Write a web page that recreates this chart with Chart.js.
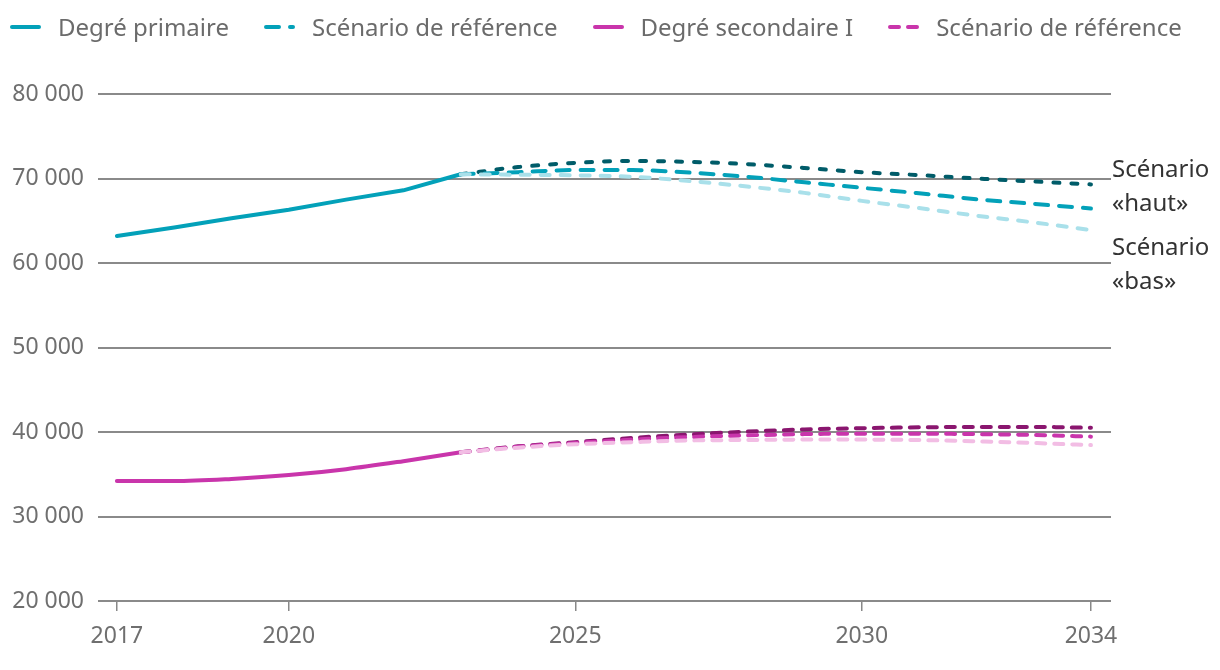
<!DOCTYPE html>
<html lang="fr">
<head>
  <meta charset="UTF-8" />
  <title>Élèves - scénarios</title>
  <script src="https://cdn.jsdelivr.net/npm/chart.js"></script>
  <style>
    html, body {
      margin: 0;
      padding: 0;
      background: #fff;
    }
    body {
      font-family: "Noto Sans", sans-serif;
      width: 1220px;
      height: 670px;
      position: relative;
      overflow: hidden;
    }
    #legend {
      position: absolute;
      left: 8px;
      top: 9px;
      display: flex;
      align-items: center;
      font-size: 24px;
      line-height: 36px;
      color: #6b6b6b;
      z-index: 2;
    }
    .item {
      display: flex;
      align-items: center;
      margin-right: 33px;
    }
    .item svg {
      margin-right: 16px;
    }
    #wrap {
      position: absolute;
      left: 0;
      top: 0;
      width: 1220px;
      height: 670px;
    }
  </style>
</head>
<body>
  <div id="legend"></div>
  <div id="wrap"><canvas id="chart"></canvas></div>

  <script>
    // historical years and projection years
    const histYears = [2017, 2018, 2019, 2020, 2021, 2022, 2023];
    const projYears = [2023, 2024, 2025, 2026, 2027, 2028, 2029, 2030, 2031, 2032, 2033, 2034];
    const xTicks = [2017, 2020, 2025, 2030, 2034];

    // degré primaire
    const primaire     = [63200, 64200, 65300, 66300, 67500, 68600, 70500];
    const primaireRef  = [70500, 70750, 71000, 71000, 70700, 70200, 69550, 68900, 68250, 67550, 67000, 66450];
    const primaireHaut = [70500, 71350, 71850, 72070, 71970, 71700, 71250, 70750, 70400, 70000, 69650, 69300];
    const primaireBas  = [70500, 70450, 70380, 70200, 69700, 69050, 68300, 67350, 66500, 65600, 64800, 63900];

    // degré secondaire I
    const secondaire     = [34200, 34200, 34450, 34900, 35600, 36550, 37600];
    const secondaireRef  = [37600, 38250, 38700, 39100, 39400, 39600, 39750, 39800, 39800, 39750, 39650, 39450];
    const secondaireHaut = [37600, 38300, 38800, 39300, 39700, 40050, 40300, 40450, 40550, 40600, 40600, 40500];
    const secondaireBas  = [37600, 38150, 38550, 38800, 39000, 39050, 39100, 39100, 39050, 38900, 38700, 38450];

    const legendItems = ['Degré primaire', 'Scénario de référence', 'Degré secondaire I', 'Scénario de référence'];
    const sideLabels = [
      { lines: ['Scénario', '«haut»'], value: 71000 },
      { lines: ['Scénario', '«bas»'], value: 61800 }
    ];

    const TEAL = '#03a1b9', TEAL_DARK = '#005c69', TEAL_LIGHT = '#a9e0ea';
    const PINK = '#c935ab', PINK_DARK = '#8a166f', PINK_LIGHT = '#f2bde4';

    function pts(xs, ys) {
      return xs.map((x, i) => ({ x: x, y: ys[i] }));
    }

    function line(label, xs, ys, color, dash, straight) {
      return {
        label: label,
        data: pts(xs, ys),
        borderColor: color,
        backgroundColor: color,
        borderWidth: 4,
        borderDash: dash || [],
        borderCapStyle: 'round',
        borderJoinStyle: 'round',
        cubicInterpolationMode: straight ? 'default' : 'monotone',
        tension: 0,
        pointRadius: 0,
        fill: false
      };
    }

    const datasets = [
      line('primaire bas', projYears, primaireBas, TEAL_LIGHT, [9, 11]),
      line('primaire ref', projYears, primaireRef, TEAL, [13, 11]),
      line('primaire haut', projYears, primaireHaut, TEAL_DARK, [6, 12]),
      line('Degré primaire', histYears, primaire, TEAL, null, true),
      line('secondaire bas', projYears, secondaireBas, PINK_LIGHT, [9, 9]),
      line('secondaire ref', projYears, secondaireRef, PINK, [9, 9]),
      line('secondaire haut', projYears, secondaireHaut, PINK_DARK, [9, 9]),
      line('Degré secondaire I', histYears, secondaire, PINK)
    ];

    // html legend
    const legendSamples = [
      { color: TEAL, dash: '' },
      { color: TEAL, dash: '13 11' },
      { color: PINK, dash: '' },
      { color: PINK, dash: '9 9' }
    ];
    const legendEl = document.getElementById('legend');
    legendItems.forEach((txt, i) => {
      const s = legendSamples[i];
      const item = document.createElement('div');
      item.className = 'item';
      item.innerHTML =
        '<svg width="34" height="6"><line x1="4" y1="3" x2="31" y2="3" stroke="' + s.color +
        '" stroke-width="4" stroke-linecap="round"' + (s.dash ? ' stroke-dasharray="' + s.dash + '"' : '') +
        '/></svg><span>' + txt + '</span>';
      legendEl.appendChild(item);
    });

    const sideLabelPlugin = {
      id: 'sideLabels',
      afterDraw(chart) {
        const ctx = chart.ctx;
        const y = chart.scales.y;
        ctx.save();
        ctx.font = '24px "Noto Sans", sans-serif';
        ctx.fillStyle = '#333';
        ctx.textAlign = 'left';
        ctx.textBaseline = 'middle';
        sideLabels.forEach(l => {
          const y0 = y.getPixelForValue(l.value);
          l.lines.forEach((t, k) => ctx.fillText(t, chart.chartArea.right + 1, y0 + k * 34));
        });
        ctx.restore();
      }
    };

    function fmt(v) {
      return String(v).replace(/\B(?=(\d{3})+(?!\d))/g, ' ');
    }

    new Chart(document.getElementById('chart'), {
      type: 'line',
      data: { datasets: datasets },
      plugins: [sideLabelPlugin],
      options: {
        responsive: true,
        maintainAspectRatio: false,
        animation: false,
        layout: { padding: { top: 94, right: 109, bottom: 0, left: 0 } },
        plugins: {
          legend: { display: false },
          tooltip: { enabled: false }
        },
        scales: {
          x: {
            type: 'linear',
            min: 2016.67,
            max: 2034.35,
            afterBuildTicks(scale) {
              scale.ticks = xTicks.map(v => ({ value: v }));
            },
            afterFit(scale) {
              scale.height = 69;
            },
            border: { display: false },
            grid: {
              drawOnChartArea: false,
              drawTicks: true,
              tickLength: 10,
              color: '#888',
              lineWidth: 1.5
            },
            ticks: {
              color: '#6f6f6f',
              font: { family: '"Noto Sans", sans-serif', size: 23 },
              padding: 12,
              maxRotation: 0,
              callback: v => String(v)
            }
          },
          y: {
            min: 20000,
            max: 80000,
            afterFit(scale) {
              scale.width = 98;
            },
            border: { display: false },
            grid: {
              color: '#8a8a8a',
              lineWidth: 2,
              drawTicks: false
            },
            ticks: {
              stepSize: 10000,
              color: '#6f6f6f',
              padding: 14,
              font: { family: '"Noto Sans", sans-serif', size: 23 },
              callback: v => fmt(v)
            }
          }
        }
      }
    });
  </script>
</body>
</html>
